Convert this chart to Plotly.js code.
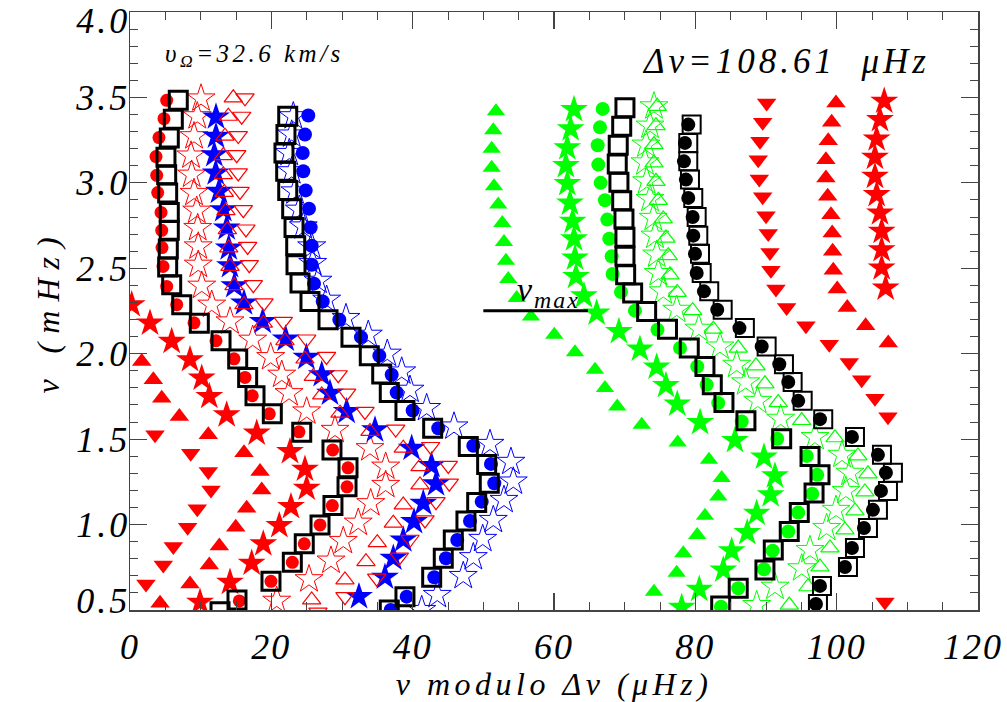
<!DOCTYPE html>
<html><head><meta charset="utf-8">
<script src="https://cdn.plot.ly/plotly-3.0.1.min.js"></script>
<style>body{margin:0;background:#fff}#chart{width:1007px;height:702px}</style>
</head><body><div id="chart"></div>
<script>
// ---- data (x: nu modulo dnu in microHz, y: nu in mHz) ----
const redCircX = [5.19,4.81,4.10,3.68,3.78,3.92,4.39,4.49,4.53,4.67,5.19,6.61,9.06,12.17,14.72,16.27,17.30,19.71,23.91,28.68,30.85,30.71,28.63,26.89,24.66,22.97,19.95,15.47];
const redCircY = [3.483,3.376,3.265,3.154,3.044,2.943,2.827,2.722,2.621,2.511,2.394,2.287,2.181,2.076,1.970,1.861,1.754,1.648,1.543,1.437,1.332,1.221,1.111,0.998,0.887,0.779,0.668,0.553];
const sqAX = [6.83,6.13,5.56,5.09,5.19,5.33,5.56,5.56,5.42,5.33,5.90,7.32,9.81,12.88,15.24,16.65,17.69,20.14,24.30,28.58,30.85,30.71,28.72,26.89,24.66,22.97,19.95,15.14,12.74];
const sqAY = [3.483,3.373,3.262,3.150,3.048,2.941,2.827,2.722,2.613,2.508,2.404,2.287,2.179,2.076,1.969,1.861,1.754,1.648,1.541,1.437,1.332,1.221,1.111,0.998,0.887,0.779,0.668,0.559,0.490];
const redOStarX = [10.05,9.52,9.06,8.63,8.73,9.06,9.44,9.58,9.66,9.66,10.15,11.56,14.15,17.36,19.91,21.47,22.50,25.00,29.01,33.96,36.18,36.18,34.06,32.30,30.18,28.44,25.33,20.76];
const redOStarY = [3.494,3.390,3.273,3.160,3.048,2.941,2.837,2.736,2.628,2.521,2.398,2.287,2.189,2.082,1.980,1.877,1.769,1.662,1.554,1.447,1.339,1.232,1.125,1.011,0.904,0.789,0.680,0.554];
const blueStarX = [12.17,12.17,11.93,12.13,12.59,13.20,13.68,13.97,14.15,14.76,16.13,18.78,22.03,24.96,27.13,28.30,30.66,34.67,39.86,42.66,43.30,41.50,40.19,38.67,37.26,36.08,32.40];
const blueStarY = [3.386,3.273,3.165,3.058,2.950,2.843,2.736,2.619,2.515,2.398,2.297,2.189,2.086,1.979,1.877,1.769,1.662,1.554,1.447,1.346,1.238,1.125,1.017,0.910,0.803,0.692,0.578];
const redOTriX = [14.62,13.91,13.44,13.20,13.20,13.34,13.58,13.77,13.97,14.15,14.72,16.13,18.86,21.93,24.76,25.94,27.13,29.72,33.96,38.67,41.04,41.04,38.67,37.26,34.99,33.39,30.42,25.71];
const redOTriY = [3.498,3.390,3.273,3.160,3.048,2.944,2.837,2.726,2.619,2.511,2.398,2.287,2.179,2.076,1.969,1.867,1.759,1.652,1.545,1.447,1.339,1.232,1.115,1.008,0.894,0.783,0.676,0.559];
const redODTriX = [16.27,15.81,15.32,15.10,15.32,15.57,16.03,16.41,16.65,16.88,17.45,18.96,21.69,25.00,27.81,29.47,30.66,33.25,37.60,42.55,45.04,45.18,43.30,41.74,39.62,38.11,34.91,30.42,26.60];
const redODTriY = [3.498,3.390,3.277,3.165,3.058,2.950,2.843,2.730,2.628,2.521,2.404,2.297,2.189,2.086,1.984,1.877,1.769,1.662,1.559,1.457,1.346,1.242,1.134,1.027,0.914,0.809,0.686,0.578,0.488];
const sqBX = [22.32,22.07,21.79,22.03,22.32,22.88,23.21,23.45,23.49,24.06,25.47,28.02,31.27,33.86,35.62,36.69,38.91,42.83,47.87,50.47,50.84,49.06,47.54,45.75,44.33,42.69,38.91,36.69];
const sqBY = [3.390,3.283,3.175,3.068,2.956,2.849,2.739,2.632,2.521,2.414,2.306,2.199,2.097,1.988,1.881,1.773,1.668,1.564,1.457,1.351,1.242,1.129,1.021,0.910,0.803,0.692,0.578,0.500];
const blueCircX = [25.23,24.76,24.44,24.52,24.86,25.33,25.57,25.71,25.71,26.04,27.27,29.62,32.69,35.28,37.03,37.74,40.00,43.62,48.58,51.08,51.55,49.77,48.11,46.31,44.71,43.06,39.15,36.89];
const blueCircY = [3.394,3.283,3.175,3.068,2.956,2.849,2.739,2.632,2.521,2.410,2.306,2.199,2.097,1.988,1.877,1.773,1.668,1.564,1.461,1.355,1.242,1.134,1.021,0.910,0.803,0.692,0.578,0.500];
const blueOStarX = [23.11,22.88,22.54,22.88,23.35,23.96,24.52,25.71,25.85,26.60,27.83,30.56,33.72,36.41,38.45,39.62,41.98,45.85,50.94,53.91,54.24,52.92,51.41,49.91,48.58,47.16,43.48,41.28];
const blueOStarY = [3.390,3.283,3.175,3.068,2.950,2.843,2.745,2.628,2.531,2.427,2.316,2.209,2.111,2.000,1.896,1.789,1.682,1.574,1.472,1.367,1.252,1.144,1.027,0.916,0.809,0.699,0.588,0.500];
const redStarX = [106.73,106.13,105.66,105.42,105.42,105.66,106.13,106.37,106.37,106.37,106.93,0.24,2.83,5.90,8.49,10.15,11.22,13.68,17.93,22.64,24.76,25.00,22.78,21.13,18.86,17.22,14.15,9.91];
const redStarY = [3.478,3.370,3.257,3.150,3.038,2.931,2.824,2.716,2.609,2.502,2.384,2.287,2.179,2.072,1.965,1.857,1.750,1.642,1.535,1.427,1.324,1.213,1.105,0.994,0.887,0.774,0.662,0.545];
const redTriX = [99.90,99.29,98.81,98.48,98.48,98.73,99.19,99.37,99.43,99.52,100.08,101.50,104.10,107.30,1.66,3.30,4.49,6.98,11.08,16.13,18.40,18.64,16.51,14.96,12.64,11.22,8.49,4.25];
const redTriY = [3.468,3.355,3.247,3.136,3.029,2.921,2.814,2.707,2.599,2.488,2.379,2.271,2.164,2.062,1.955,1.847,1.740,1.632,1.525,1.421,1.310,1.203,1.096,0.984,0.875,0.764,0.652,0.539];
const redDTriX = [90.09,89.53,89.15,88.90,89.05,89.53,90.00,90.32,90.56,90.70,91.41,92.92,95.65,98.95,101.78,103.54,105.42,107.26,3.54,8.59,11.08,11.46,9.52,8.16,6.13,4.71,2.26,106.83];
const redDTriY = [3.468,3.355,3.243,3.136,3.023,2.918,2.808,2.703,2.593,2.488,2.379,2.271,2.164,2.056,1.949,1.847,1.739,1.631,1.525,1.418,1.310,1.203,1.092,0.984,0.871,0.764,0.652,0.547];
const grnTriX = [51.79,51.41,51.18,51.18,51.51,52.11,52.68,52.92,53.20,53.53,54.72,56.74,60.04,62.97,65.80,67.21,68.95,72.41,77.50,81.93,83.73,83.25,81.36,80.27,78.29,77.36,74.15];
const grnTriY = [3.419,3.308,3.199,3.088,2.980,2.873,2.765,2.654,2.544,2.437,2.326,2.218,2.111,2.008,1.906,1.799,1.691,1.584,1.480,1.379,1.272,1.164,1.051,0.939,0.832,0.718,0.607];
const grnStarX = [62.83,62.36,61.88,61.69,61.88,62.26,62.64,62.83,62.97,63.11,64.24,66.04,69.19,72.16,74.53,75.84,77.44,80.67,85.61,89.71,91.27,90.66,88.68,87.35,85.14,83.95,80.56,78.07];
const grnStarY = [3.429,3.316,3.205,3.101,2.996,2.882,2.775,2.672,2.560,2.452,2.339,2.238,2.130,2.027,1.922,1.814,1.705,1.597,1.492,1.395,1.285,1.174,1.066,0.953,0.846,0.734,0.621,0.516];
const grnCircX = [66.89,66.51,66.18,66.27,66.60,67.21,67.54,67.82,68.16,68.30,69.48,71.46,74.64,77.83,80.27,81.60,83.24,86.56,91.59,95.75,97.25,96.54,94.56,93.15,90.94,89.71,86.07,83.63];
const grnCircY = [3.433,3.325,3.220,3.107,3.000,2.898,2.785,2.673,2.570,2.467,2.361,2.252,2.140,2.033,1.925,1.818,1.711,1.603,1.502,1.402,1.291,1.180,1.070,0.959,0.847,0.738,0.627,0.519];
const sqCX = [70.04,69.58,69.09,68.95,69.19,69.58,69.90,70.04,70.04,70.14,71.13,73.11,76.06,79.14,81.36,82.40,84.05,87.16,92.22,96.23,97.64,96.80,94.71,93.29,91.03,89.85,86.07,83.59];
const sqCY = [3.439,3.331,3.220,3.111,3.003,2.896,2.789,2.681,2.570,2.462,2.355,2.247,2.143,2.033,1.925,1.818,1.714,1.607,1.502,1.398,1.291,1.184,1.070,0.959,0.851,0.734,0.627,0.523];
const grnOStarX = [74.15,73.58,73.01,72.87,73.11,73.58,74.05,74.29,74.53,74.76,75.46,77.36,80.49,83.49,85.85,87.12,88.82,92.07,96.93,100.75,101.88,101.31,99.90,98.58,96.22,95.05,91.27,88.68];
const grnOStarY = [3.448,3.335,3.224,3.120,3.009,2.906,2.795,2.691,2.580,2.472,2.365,2.257,2.146,2.042,1.935,1.832,1.724,1.619,1.512,1.408,1.303,1.197,1.086,0.980,0.851,0.744,0.636,0.529];
const grnOTriX = [74.61,74.43,74.15,74.15,74.43,74.76,75.46,75.84,76.17,76.41,77.44,79.62,82.54,86.07,88.58,89.85,91.73,95.05,99.76,103.01,104.43,104.00,102.59,101.17,99.05,97.64,95.94,93.29];
const grnOTriY = [3.448,3.335,3.224,3.117,3.009,2.898,2.789,2.677,2.574,2.462,2.359,2.252,2.144,2.033,1.929,1.824,1.714,1.609,1.508,1.402,1.297,1.191,1.080,0.969,0.863,0.752,0.636,0.529];
const blkCircX = [79.00,78.53,78.39,78.67,79.00,79.62,79.71,79.95,80.19,81.22,83.10,86.24,89.39,91.88,93.15,94.56,97.64,102.16,105.84,106.97,106.27,105.13,103.86,102.16,101.17,97.64,97.07];
const blkCircY = [3.341,3.234,3.126,3.019,2.912,2.800,2.691,2.585,2.472,2.365,2.257,2.150,2.042,1.938,1.834,1.724,1.617,1.513,1.408,1.303,1.197,1.086,0.980,0.863,0.752,0.641,0.535];
const sqDX = [79.48,79.00,79.00,79.24,79.71,80.19,80.42,80.66,80.90,81.97,83.87,87.01,90.09,92.54,93.77,95.19,98.10,102.59,106.41,107.96,107.26,105.84,104.43,102.59,101.60,97.92,97.35];
const sqDY = blkCircY;
const numaxLineX = [50.0, 64.8];
const numaxLineY = [2.252, 2.252];
const xTickVals = [0,20,40,60,80,100,120];
const yTickVals = [0.5,1.0,1.5,2.0,2.5,3.0,3.5,4.0];
const yTickText = ['0.5','1.0','1.5','2.0','2.5','3.0','3.5','4.0'];

const RED='#ff0000', BLUE='#0000ff', GRN='#00ff00', BLK='#000000';
function tr(x,y,sym,color,size,lw){
  const open = sym.indexOf('open')>=0;
  return {x:x,y:y,type:'scatter',mode:'markers',hoverinfo:'skip',cliponaxis:true,
    marker:{symbol:sym,size:size,color:color,line:{color:color,width:open?lw:0}}};
}
const data = [
  tr(redStarX,redStarY,'star',RED,21,0),
  tr(redTriX,redTriY,'triangle-up',RED,17,0),
  tr(redDTriX,redDTriY,'triangle-down',RED,17,0),
  tr(redCircX,redCircY,'circle',RED,13,0),
  tr(redOStarX,redOStarY,'star-open',RED,21,1),
  tr(blueStarX,blueStarY,'star',BLUE,21,0),
  tr(redOTriX,redOTriY,'triangle-up-open',RED,16,1.2),
  tr(redODTriX,redODTriY,'triangle-down-open',RED,16,1.2),
  tr(blueOStarX,blueOStarY,'star-open',BLUE,21,1),
  tr(blueCircX,blueCircY,'circle',BLUE,14,0),
  tr(grnTriX,grnTriY,'triangle-up',GRN,16,0),
  tr(grnStarX,grnStarY,'star',GRN,21,0),
  tr(grnCircX,grnCircY,'circle',GRN,14,0),
  tr(grnOStarX,grnOStarY,'star-open',GRN,21,1),
  tr(grnOTriX,grnOTriY,'triangle-up-open',GRN,16,1.2),
  tr(blkCircX,blkCircY,'circle',BLK,14,0),
  tr(sqAX,sqAY,'square-open',BLK,18,3),
  tr(sqBX,sqBY,'square-open',BLK,18,3),
  tr(sqCX,sqCY,'square-open',BLK,18,3),
  tr(sqDX,sqDY,'square-open',BLK,18,2),
  {x:numaxLineX,y:numaxLineY,type:'scatter',mode:'lines',hoverinfo:'skip',line:{color:'#000',width:3}}
];
const FONT = {family:'Liberation Serif, DejaVu Serif, serif', style:'italic', color:'#000'};
const axisCommon = {showline:true, mirror:'allticks', linecolor:'#444', linewidth:1.5,
  ticks:'inside', tickcolor:'#444', tickwidth:1.2, ticklen:17, showgrid:false, zeroline:false,
  ticklabeloverflow:'allow', tickfont:Object.assign({size:36},FONT)};
const layout = {
  width:1007, height:702, paper_bgcolor:'#fff', plot_bgcolor:'#fff', showlegend:false,
  margin:{l:130, r:29, t:12, b:92},
  xaxis:Object.assign({}, axisCommon, {range:[0,120], tickvals:xTickVals,
    ticklabelstandoff:4,
    minor:{dtick:5, ticks:'inside', ticklen:8, tickcolor:'#444', tickwidth:1},
    title:{text:'ν modulo Δν (μHz)', font:Object.assign({size:32},FONT), standoff:4}}),
  yaxis:Object.assign({}, axisCommon, {range:[0.4999,4.0001], tickvals:yTickVals,
    ticktext:yTickText, ticklabelstandoff:0,
    minor:{dtick:0.1, ticks:'inside', ticklen:8, tickcolor:'#444', tickwidth:1},
    title:{text:'ν (mHz)', font:Object.assign({size:32},FONT), standoff:6}}),
  annotations:[
    {x:0.064, y:0.928, xref:'paper', yref:'paper', xanchor:'left', yanchor:'middle', showarrow:false,
     text:'υ<sub>Ω</sub>=32.6 km/s', font:Object.assign({size:25},FONT)},
    {x:0.913, y:0.917, xref:'paper', yref:'paper', xanchor:'right', yanchor:'middle', showarrow:false,
     text:'Δν=108.61  μHz', font:Object.assign({size:35},FONT)},
    {x:55.1, y:2.36, xref:'x', yref:'y', xanchor:'left', yanchor:'middle', showarrow:false,
     text:'ν<sub>max</sub>', font:Object.assign({size:34},FONT)}
  ]
};
Plotly.newPlot('chart', data, layout, {staticPlot:true}).then(function(){
  const sp = function(sel, v){ document.querySelectorAll(sel).forEach(function(el){ el.style.letterSpacing = v; }); };
  sp('.xtick text', '2px');
  sp('.ytick text', '3px');
  sp('.g-xtitle text', '4.5px');
  sp('.g-ytitle text', '9px');
  const ann = document.querySelectorAll('.annotation-text');
  if (ann[0]) ann[0].style.letterSpacing = '3.5px';
  if (ann[1]) ann[1].style.letterSpacing = '4px';
  if (ann[2]) ann[2].style.letterSpacing = '2px';
  // IDL-style placement of y tick labels: closer to the axis, end labels pulled inward
  document.querySelectorAll('.ytick text').forEach(function(el){
    let dy = 0;
    if (el.textContent === '4.0') dy = 8;
    if (el.textContent === '0.5') dy = -10;
    const x0 = parseFloat(el.getAttribute('x')) || 0;
    const y0 = parseFloat(el.getAttribute('y')) || 0;
    el.setAttribute('x', x0 + 9);
    el.setAttribute('y', y0 + dy);
  });
  document.querySelectorAll('.xtick text').forEach(function(el){
    if (el.textContent === '120') {
      const x0 = parseFloat(el.getAttribute('x')) || 0;
      el.setAttribute('x', x0 - 5);
    }
  });
});
</script></body></html>
